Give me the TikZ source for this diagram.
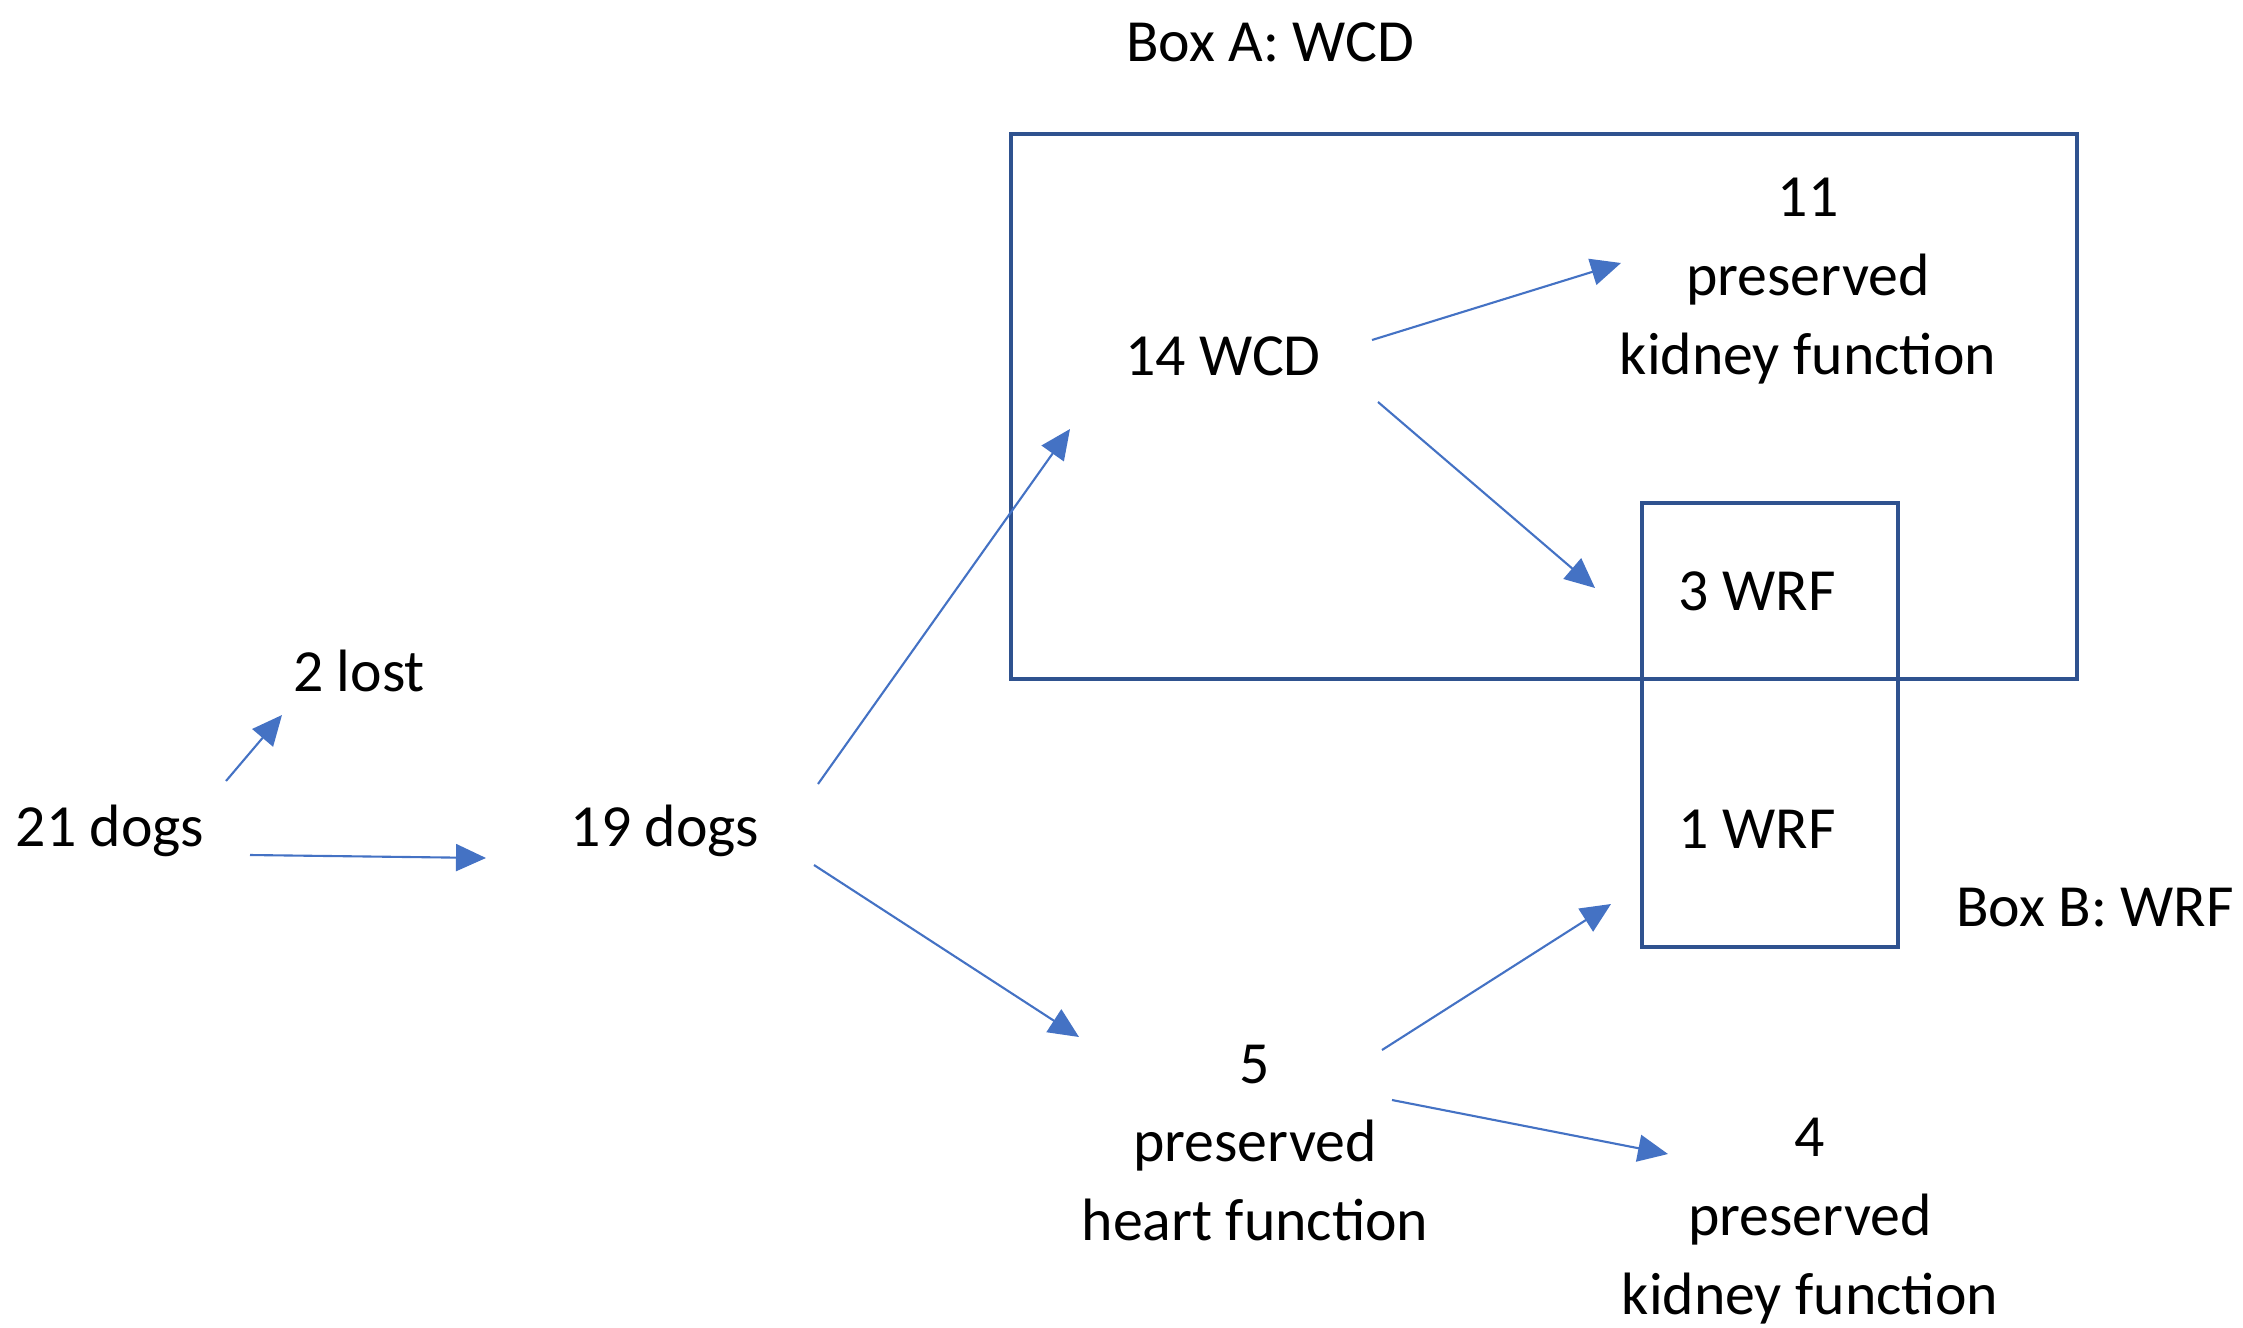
\documentclass[tikz,border=0pt]{standalone}
\usepackage{fontspec}
\setmainfont{Carlito}
\usepackage{tikz}
\usetikzlibrary{arrows.meta,positioning}
\definecolor{arrowblue}{HTML}{4472C4}
\definecolor{boxblue}{HTML}{2F528F}

\begin{document}
\begin{tikzpicture}[x=0.01cm,y=-0.01cm,
  lbl/.style={align=center,inner sep=0pt,font=\fontsize{17}{22.4}\selectfont},
  flow/.style={draw=arrowblue,line width=0.6pt,-{Triangle[length=0.3cm,width=0.27cm]}},
  groupbox/.style={draw=boxblue,line width=1.2pt}]
\useasboundingbox (0,0) rectangle (2243,1327);
\draw[groupbox] (1011,134) rectangle (2077,679);
\draw[groupbox] (1642,503) rectangle (1898,947);
\node[lbl] (boxa) at (1270,42) {Box A: WCD};
\node[lbl] (boxb) at (2095,908) {Box B: WRF};
\node[lbl] (d21) at (110,831) {21 dogs};
\node[lbl] (lost) at (359,671) {2 lost};
\node[lbl] (d19) at (665,831) {19 dogs};
\node[lbl] (wcd) at (1223,356) {14 WCD};
\node[lbl] (kid11) at (1808,281) {11\\preserved\\kidney function};
\node[lbl] (wrf3) at (1757,591) {3 WRF};
\node[lbl] (wrf1) at (1757,829) {1 WRF};
\node[lbl] (heart5) at (1255,1143) {5\\preserved\\heart function};
\node[lbl] (kid4) at (1810,1221) {4\\preserved\\kidney function};
\draw[flow] ([shift={(116,-50)}]d21.center) -- ([shift={(-77,44)}]lost.center);
\draw[flow] ([shift={(140,24)}]d21.center) -- ([shift={(-179,27)}]d19.center);
\draw[flow] ([shift={(153,-47)}]d19.center) -- ([shift={(-153,73)}]wcd.center);
\draw[flow] ([shift={(149,34)}]d19.center) -- ([shift={(-176,-106)}]heart5.center);
\draw[flow] ([shift={(149,-16)}]wcd.center) -- ([shift={(-187,-18)}]kid11.center);
\draw[flow] ([shift={(155,46)}]wcd.center) -- ([shift={(-162,-3)}]wrf3.center);
\draw[flow] ([shift={(127,-93)}]heart5.center) -- ([shift={(-146,75)}]wrf1.center);
\draw[flow] ([shift={(137,-43)}]heart5.center) -- ([shift={(-142,-67)}]kid4.center);
\end{tikzpicture}
\end{document}
